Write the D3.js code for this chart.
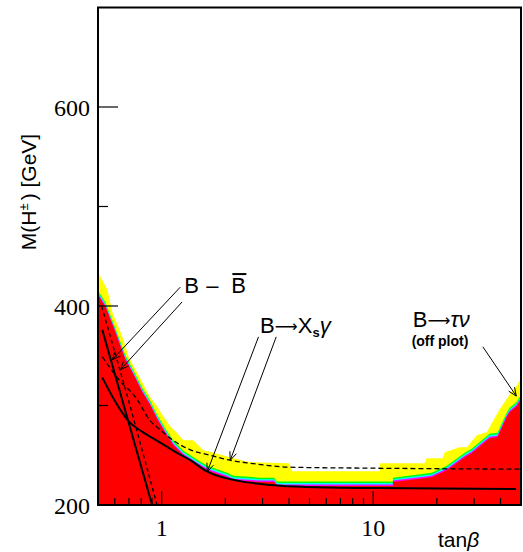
<!DOCTYPE html>
<html><head><meta charset="utf-8">
<script src="https://cdn.jsdelivr.net/npm/d3@7/dist/d3.min.js"></script>
<style>body{margin:0;background:#fff}svg{display:block}</style>
</head><body>
<script>
// ---- data (tanβ, M(H±) in GeV) ----
const redTb = [0.5,0.543,0.573,0.605,0.639,0.674,0.727,0.768,0.811,0.884,0.954,1.064,1.136,1.266,1.474,1.643,2.04,2.18,2.92,3.4,3.51,12.4,12.4,18.9,22.3,27.1,29.2,35.5,38.7,42.7,44.1,47.6,50];
const redM  = [411,399,386,373,359,346,333,323,313,300,286,269,260,250,241,235,228,225,223,223,219,219,223,228,235,248,252,267,268,288,293,299,306];
const yelTb = [0.5,0.555,0.586,0.625,0.660,0.697,0.752,0.811,0.856,0.884,0.954,1.018,1.099,1.186,1.266,1.411,1.573,1.735,2.18,2.62,4.0,4.14,10.75,10.75,17.5,17.9,21.3,21.8,25.6,27.7,30.9,34.4,39.6,44.2,48.2,50];
const yelM  = [434,416,393,379,366,349,336,323,313,308,299,289,279,272,265,265,255,253,247,243,242,234,234,242,242,247,247,253,258,258,270,273,296,311,321,328];
const xsgSolidTb = [0.524,0.605,0.699,0.811,0.954,1.16,1.366,1.643,2.35,3.26,4.86,10,47.4];
const xsgSolidM  = [328,303.5,284,273.5,264.5,253.5,245,233.5,224,220,218,217,216];
const xsgDashTb = [0.524,0.639,0.752,0.884,0.986,1.123,1.366,1.697,2.11,2.62,4.04,10,49.3];
const xsgDashM  = [349,324,308.5,284.5,275.5,265.5,255.5,250,245,242,238,237,236];
const bbSolidTb = [0.524,0.70,0.901];
const bbSolidM  = [376,282,200];
const bbDashTb  = [0.52,0.70,0.951];
const bbDashM   = [400,304,200];
const yTickMajor = [200,400,600];
const yTickMinor = [300,500];
const yTickLabels = ["200","400","600"];
const xTickMajor = [1,10];
const xTickMinor = [0.6,0.7,0.8,0.9,2,3,4,5,6,7,8,9,20,30,40];
const xTickLabels = ["1","10"];

// ---- chart ----
const W=523,H=552;
const svg=d3.select("body").append("svg").attr("width",W).attr("height",H);
const x=d3.scaleLog().domain([0.5,50]).range([98,521]);
const y=d3.scaleLinear().domain([200,700]).range([505,7.5]);
svg.append("clipPath").attr("id","c").append("rect")
  .attr("x",99).attr("y",8.5).attr("width",421).attr("height",495.5);
const g=svg.append("g").attr("clip-path","url(#c)");
const pts=(tb,m,o=0)=>tb.map((t,i)=>[t,m[i]+o]);
const area=d3.area().x(d=>x(d[0])).y0(y(200)+5).y1(d=>y(d[1]));
g.append("path").datum(pts(yelTb,yelM)).attr("d",area).attr("fill","#ffff00");
[[4.5,"#00ff00"],[3,"#00ffff"],[1.5,"#ff00ff"],[0,"#ff0000"]].forEach(([o,c])=>
  g.append("path").datum(pts(redTb,redM,o)).attr("d",area).attr("fill",c));

const smooth=d3.line().x(d=>x(d[0])).y(d=>y(d[1])).curve(d3.curveMonotoneX);
const straight=d3.line().x(d=>x(d[0])).y(d=>y(d[1]));
g.append("path").datum(pts(xsgSolidTb,xsgSolidM)).attr("d",smooth)
  .attr("fill","none").attr("stroke","#000").attr("stroke-width",2);
g.append("path").datum(pts(xsgDashTb,xsgDashM)).attr("d",smooth)
  .attr("fill","none").attr("stroke","#000").attr("stroke-width",1.3).attr("stroke-dasharray","5,3");
g.append("path").datum(pts(bbSolidTb,bbSolidM)).attr("d",straight)
  .attr("fill","none").attr("stroke","#000").attr("stroke-width",2);
g.append("path").datum(pts(bbDashTb,bbDashM)).attr("d",straight)
  .attr("fill","none").attr("stroke","#000").attr("stroke-width",1.3).attr("stroke-dasharray","4,3");

// frame + ticks
svg.append("rect").attr("x",98).attr("y",7.5).attr("width",423).attr("height",497.5)
  .attr("fill","none").attr("stroke","#000").attr("stroke-width",2);
const tk=svg.append("g").attr("stroke","#000").attr("stroke-width",1.2);
yTickMajor.forEach(v=>tk.append("line").attr("x1",98).attr("x2",118).attr("y1",y(v)).attr("y2",y(v)));
yTickMinor.forEach(v=>tk.append("line").attr("x1",98).attr("x2",108).attr("y1",y(v)).attr("y2",y(v)));
xTickMajor.forEach(v=>tk.append("line").attr("x1",x(v)).attr("x2",x(v)).attr("y1",505).attr("y2",491));
xTickMinor.forEach(v=>tk.append("line").attr("x1",x(v)).attr("x2",x(v)).attr("y1",505).attr("y2",498));

const serif="'Liberation Serif','Times New Roman',serif";
const sans="'Liberation Sans',Arial,Helvetica,sans-serif";
yTickMajor.forEach((v,i)=>svg.append("text").attr("x",90).attr("y",y(v)+9)
  .attr("text-anchor","end").style("font-family",serif).style("font-size","24px").text(yTickLabels[i]));
xTickMajor.forEach((v,i)=>svg.append("text").attr("x",x(v)).attr("y",536)
  .attr("text-anchor","middle").style("font-family",serif).style("font-size","24px").text(xTickLabels[i]));

// axis titles
const xt=svg.append("text").attr("x",438).attr("y",547).style("font-family",sans).style("font-size","21px");
xt.append("tspan").text("tan");
xt.append("tspan").style("font-style","italic").text("β");
const yt=svg.append("text").attr("transform","translate(36,192) rotate(-90)")
  .attr("text-anchor","middle").style("font-family",sans).style("font-size","21px");
yt.append("tspan").text("M(H");
yt.append("tspan").attr("dy",-8).style("font-size","13px").text("±");
yt.append("tspan").attr("dy",8).attr("dx",3).text(") [GeV]");

// annotations
const A=svg.append("g").attr("stroke","#000").attr("stroke-width",1).attr("fill","none");
function arrow(t1,m1,t2,m2){
  const x1=x(t1),y1=y(m1),x2=x(t2),y2=y(m2);
  A.append("line").attr("x1",x1).attr("y1",y1).attr("x2",x2).attr("y2",y2);
  const ang=Math.atan2(y1-y2,x1-x2), L=9, s=0.4;
  [ang+s,ang-s].forEach(a=>A.append("line").attr("x1",x2).attr("y1",y2)
    .attr("x2",x2+L*Math.cos(a)).attr("y2",y2+L*Math.sin(a)));
}
arrow(1.225,419,0.584,346);
arrow(1.248,404,0.639,336);
arrow(2.87,369,1.643,233.5);
arrow(3.48,369,2.11,245);
arrow(33.0,359,47.5,309.5);

function label(tb,m){return svg.append("text").attr("x",x(tb)).attr("y",y(m))
  .style("font-family",sans).style("font-size","22px");}
const arrowGlyph=(t)=>t.append("tspan").style("font-family","'DejaVu Sans',sans-serif")
  .style("font-size","16px").attr("dy",-1).text("⟶");
// B - Bbar
const bx=x(1.28), by=y(413);
label(1.28,413).text("B");
svg.append("text").attr("x",bx+22).attr("y",by).style("font-family",sans).style("font-size","22px").text("–");
svg.append("text").attr("x",bx+47).attr("y",by).style("font-family",sans).style("font-size","22px").text("B");
svg.append("line").attr("x1",bx+48).attr("x2",bx+62).attr("y1",by-19).attr("y2",by-19)
  .attr("stroke","#000").attr("stroke-width",2);
// B -> Xs gamma
const l2=label(2.92,373);
l2.append("tspan").text("B");
arrowGlyph(l2);
l2.append("tspan").attr("dy",1).text("X");
l2.append("tspan").attr("dy",4).style("font-size","13px").style("font-weight","bold").text("s");
l2.append("tspan").attr("dy",-4).style("font-style","italic").text("γ");
// B -> tau nu
const l3=label(15.4,379);
l3.append("tspan").text("B");
arrowGlyph(l3);
l3.append("tspan").attr("dy",1).style("font-style","italic").text("τν");
svg.append("text").attr("x",x(15.2)).attr("y",y(360)).style("font-family",sans)
  .style("font-size","14px").style("font-weight","bold").text("(off plot)");
</script>
</body></html>
